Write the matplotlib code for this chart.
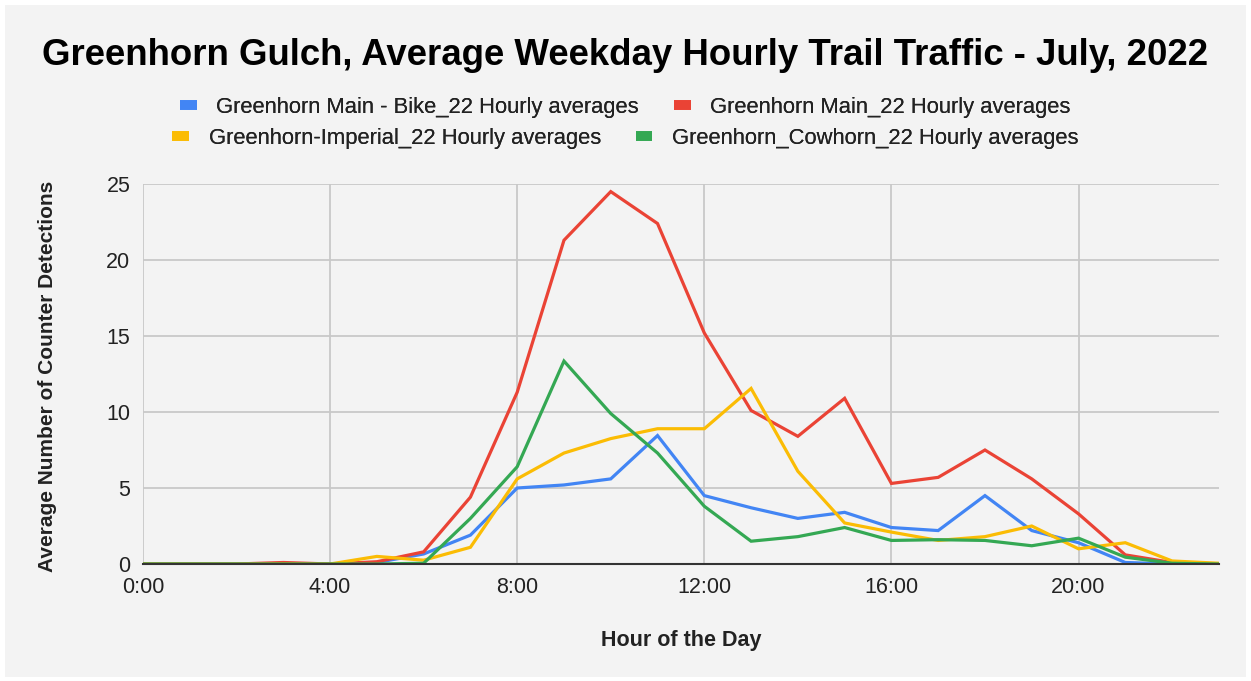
import matplotlib.pyplot as plt
from matplotlib.lines import Line2D
from matplotlib.patches import Rectangle

plt.rcParams['font.family'] = ['Liberation Sans', 'DejaVu Sans']

# hourly averages
hours = list(range(24))
main_bike = [0, 0, 0, 0, 0, 0.1, 0.66, 1.9, 5.0, 5.2, 5.6, 8.45, 4.5, 3.7, 3.0, 3.4,
             2.4, 2.2, 4.5, 2.2, 1.4, 0.1, 0, 0]
main_all = [0, 0, 0, 0.1, 0, 0.15, 0.8, 4.4, 11.3, 21.3, 24.5, 22.4, 15.2, 10.1, 8.4, 10.9,
            5.3, 5.7, 7.5, 5.6, 3.3, 0.6, 0.1, 0]
imperial = [0, 0, 0, 0, 0, 0.5, 0.25, 1.1, 5.6, 7.3, 8.25, 8.9, 8.9, 11.55, 6.1, 2.7,
            2.1, 1.55, 1.8, 2.5, 1.0, 1.4, 0.2, 0.05]
cowhorn = [0, 0, 0, 0, 0, 0, 0.05, 3.0, 6.4, 13.35, 9.9, 7.3, 3.8, 1.5, 1.8, 2.4,
           1.55, 1.6, 1.55, 1.2, 1.7, 0.45, 0.05, 0]

labels = ['Greenhorn Main - Bike_22 Hourly averages', 'Greenhorn Main_22 Hourly averages',
          'Greenhorn-Imperial_22 Hourly averages', 'Greenhorn_Cowhorn_22 Hourly averages']
colors = ['#4285F4', '#EA4335', '#FBBC04', '#34A853']
xticks = [0, 4, 8, 12, 16, 20]
xtick_labels = ['0:00', '4:00', '8:00', '12:00', '16:00', '20:00']
yticks = [0, 5, 10, 15, 20, 25]

fig = plt.figure(figsize=(12.51, 6.81), dpi=100, facecolor='white')
fig.patches.append(Rectangle((0.004, 0.006), 0.992, 0.987, transform=fig.transFigure,
                             facecolor='#f3f3f3', edgecolor='none', zorder=-10))
ax = fig.add_axes([0.1143, 0.1718, 0.86, 0.558])
ax.set_facecolor('#f3f3f3')

series = [main_bike, main_all, imperial, cowhorn]
# draw order: green, yellow, blue, red roughly as in the reference
for idx in [3, 2, 0, 1]:
    ax.plot(hours, series[idx], color=colors[idx], lw=2.3, solid_joinstyle='miter',
            zorder=3 + idx)

ax.set_xlim(0, 23)
ax.set_ylim(0, 25)
ax.set_xticks(xticks)
ax.set_xticklabels(xtick_labels)
ax.set_yticks(yticks)
ax.grid(True, color='#c8c8c8', lw=1.3)
ax.set_axisbelow(True)
for s in ['top', 'right', 'left']:
    ax.spines[s].set_visible(False)
ax.spines['bottom'].set_color('#333333')
ax.spines['bottom'].set_linewidth(1.5)
ax.spines['bottom'].set_zorder(10)
ax.tick_params(length=0, labelsize=15.5, labelcolor='#222222', pad=9)

ax.set_xlabel('Hour of the Day', fontsize=15.5, fontweight='bold', color='#222222', va='center')
ax.xaxis.set_label_coords(0.5, -0.2)
ax.set_ylabel('Average Number of Counter Detections', fontsize=15, fontweight='bold',
              color='#222222', va='center')
ax.yaxis.set_label_coords(-0.0883, 0.493)

fig.text(0.5, 0.919, 'Greenhorn Gulch, Average Weekday Hourly Trail Traffic - July, 2022',
         ha='center', va='center', fontsize=26.4, fontweight='bold', color='black')

handles = [Line2D([0], [0], color=c, lw=7, solid_capstyle='butt') for c in colors]
for row, y in [(0, 0.842), (1, 0.797)]:
    leg = fig.legend(handles[2 * row:2 * row + 2], labels[2 * row:2 * row + 2],
                     loc='center', bbox_to_anchor=(0.5, y), ncol=2, frameon=False,
                     fontsize=15.8, handlelength=0.75, handletextpad=0.9,
                     columnspacing=1.6, labelcolor='#222222')
    fig.add_artist(leg)

fig.savefig('out.png', dpi=100, facecolor=fig.get_facecolor())
